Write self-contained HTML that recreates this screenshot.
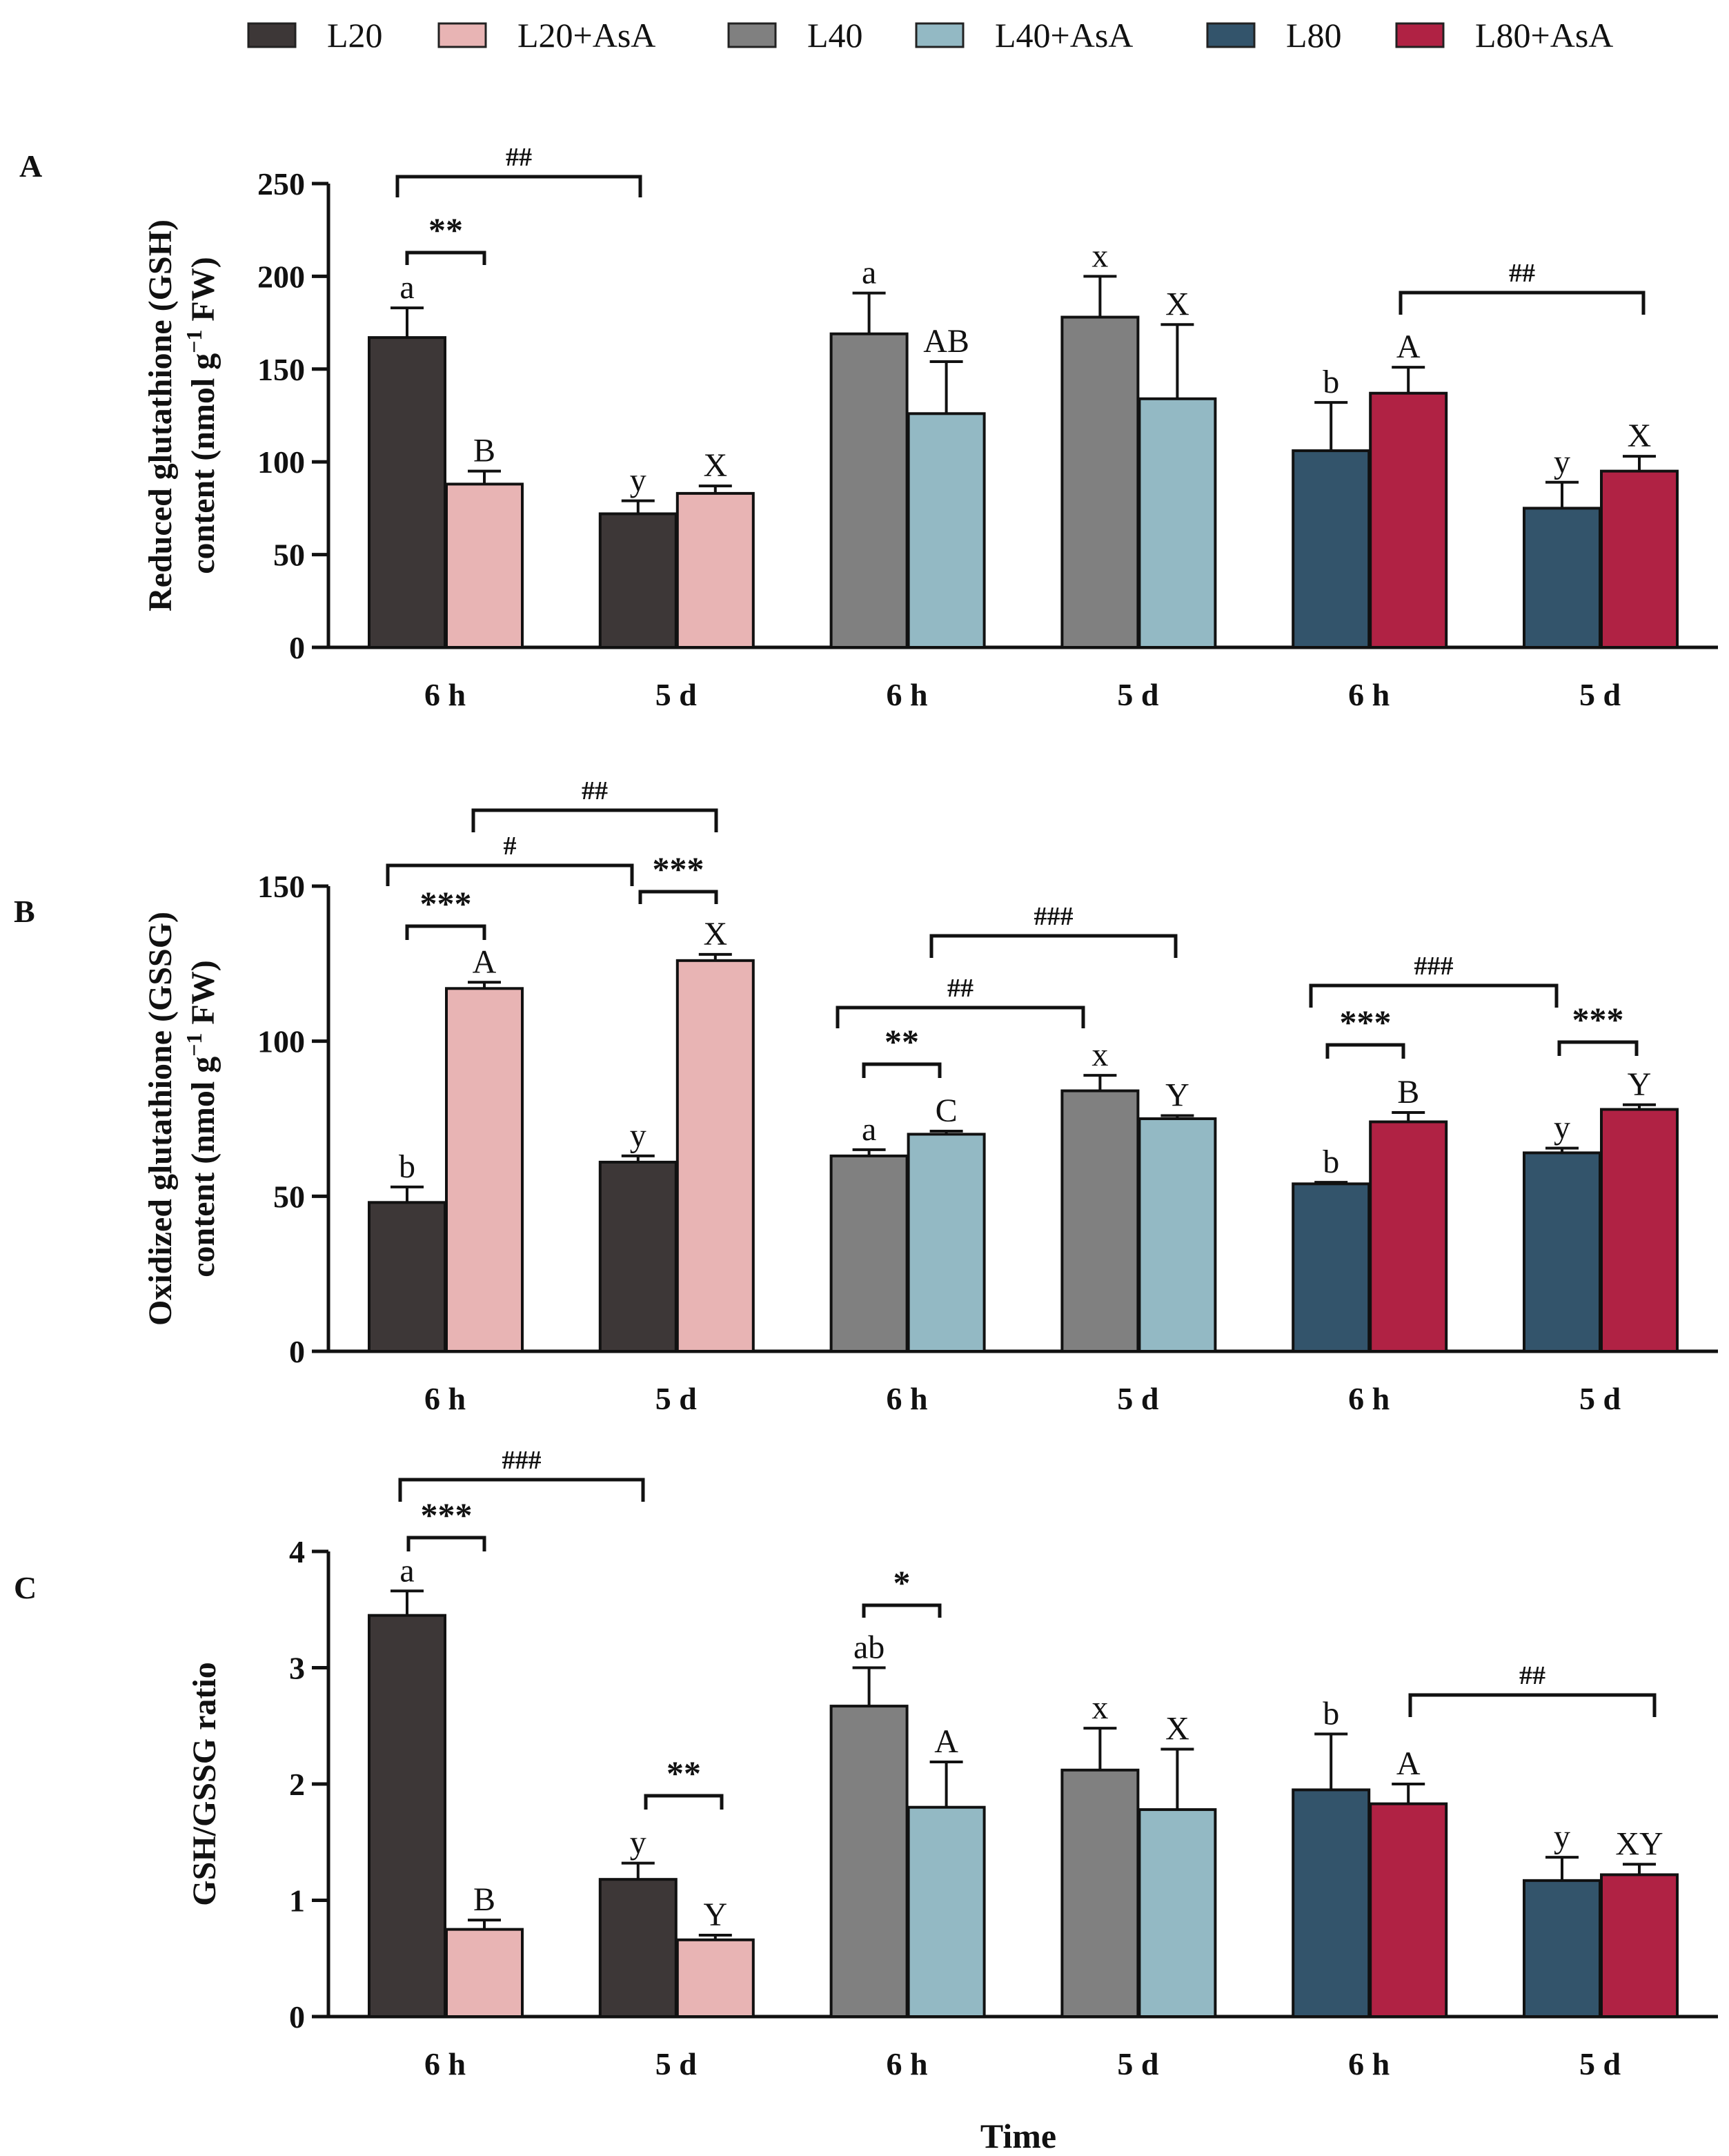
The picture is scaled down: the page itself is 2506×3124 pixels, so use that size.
<!DOCTYPE html>
<html><head><meta charset="utf-8"><style>
html,body{margin:0;padding:0;background:#fff;}
svg{display:block;}
text{font-family:"Liberation Serif",serif;fill:#111;}
</style></head><body>
<svg id="chart" width="2506" height="3124" viewBox="0 0 1253 1562" xmlns="http://www.w3.org/2000/svg"></svg>
<script>
const treatments = ["L20","L20+AsA","L40","L40+AsA","L80","L80+AsA"];
const colors = ["#3d3737","#e8b4b4","#808080","#93b9c4","#33546b","#b02244"];
const timeLabels = ["6 h","5 d","6 h","5 d","6 h","5 d"];
const gshValues = [167,88,72,83,169,126,178,134,106,137,75,95];
const gshErr = [16,7,7,4,22,28,22,40,26,14,14,8];
const gshLetters = ["a","B","y","X","a","AB","x","X","b","A","y","X"];
const gsshValues = [48,117,61,126,63,70,84,75,54,74,64,78];
const gsshErr = [5,2,2,2,2,1,5,1,0.5,3,1.5,1.5];
const gsshLetters = ["b","A","y","X","a","C","x","Y","b","B","y","Y"];
const ratioValues = [3.45,0.75,1.18,0.66,2.67,1.80,2.12,1.78,1.95,1.83,1.17,1.22];
const ratioErr = [0.21,0.08,0.14,0.04,0.33,0.39,0.36,0.52,0.48,0.17,0.20,0.09];
const ratioLetters = ["a","B","y","Y","ab","A","x","X","b","A","y","XY"];
const gshTicks = [0,50,100,150,200,250];
const gsshTicks = [0,50,100,150];
const ratioTicks = [0,1,2,3,4];

const svg = document.getElementById('chart');
const NS = "http://www.w3.org/2000/svg";
function el(tag, attrs, parent){const e=document.createElementNS(NS,tag);for(const k in attrs)e.setAttribute(k,attrs[k]);(parent||svg).appendChild(e);return e;}
function txt(s, attrs, parent){const e=el('text',attrs,parent);e.textContent=s;return e;}

const lx=[180,318,528,664,875,1012];
treatments.forEach((t,i)=>{
  const g=el('g',{});
  
  
  el('rect',{x:lx[i],y:17,width:34,height:17,fill:colors[i],stroke:'#222','stroke-width':1.5},g);
  txt(t,{x:lx[i]+57,y:34,'font-size':25},g);
});

function panel(cfg){
  const g=el('g',{});
  
  
  const y=v=>cfg.y0-(v-cfg.min)/(cfg.max-cfg.min)*(cfg.y0-cfg.ytop);
  const xc=i=>322.5+i*167.4;
  el('line',{x1:238,y1:cfg.ytop,x2:238,y2:cfg.y0+1,stroke:'#111','stroke-width':2.5},g);
  el('line',{x1:238,y1:cfg.y0,x2:1245,y2:cfg.y0,stroke:'#111','stroke-width':2.5},g);
  cfg.ticks.forEach(t=>{
    el('line',{x1:226,y1:y(t),x2:238,y2:y(t),stroke:'#111','stroke-width':2.5},g);
    txt(String(t),{x:221,y:y(t)+8,'font-size':23,'font-weight':'bold','text-anchor':'end'},g);
  });
  cfg.values.forEach((v,j)=>{
    const grp=Math.floor(j/2), k=j%2;
    const x0=xc(grp)-55+k*56;
    const color=colors[Math.floor(grp/2)*2+k];
    const cx=x0+27.5;
    const top=y(v+cfg.err[j]);
    const e=el('line',{x1:cx,y1:y(v),x2:cx,y2:top,stroke:'#111','stroke-width':2},g);
    
    
    el('line',{x1:cx-12,y1:top,x2:cx+12,y2:top,stroke:'#111','stroke-width':2},g);
    const r=el('rect',{x:x0,y:y(v),width:55,height:cfg.y0-y(v),fill:color,stroke:'#111','stroke-width':2},g);
    
    
    txt(cfg.letters[j],{x:cx,y:top-7,'font-size':24,'text-anchor':'middle'},g);
  });
  timeLabels.forEach((l,i)=>txt(l,{x:xc(i),y:cfg.y0+42,'font-size':23,'font-weight':'bold','text-anchor':'middle'},g));
  const ty=el('text',{transform:`translate(${cfg.tx},${(cfg.y0+cfg.ytop)/2}) rotate(-90)`,'font-size':24,'font-weight':'bold','text-anchor':'middle'},g);
  
  
  cfg.title.forEach((line,i)=>{const ts=document.createElementNS(NS,'tspan');ts.setAttribute('x',0);ts.setAttribute('y',i*31);ts.innerHTML=line;ty.appendChild(ts);});
  txt(cfg.letter,{x:cfg.lx,y:cfg.ly,'font-size':23,'font-weight':'bold'},g);
  cfg.brackets.forEach(b=>{
    const bg=el('g',{},g);
    
    
    el('path',{d:`M${b[0]},${b[2]+b[3]} V${b[2]} H${b[1]} V${b[2]+b[3]}`,fill:'none',stroke:'#111','stroke-width':2.5},bg);
    txt(b[4],{x:(b[0]+b[1])/2,y:b[2]-8,'font-size':b[4].includes('*')?25:19,'font-weight':'bold','text-anchor':'middle'},bg);
  });
}

panel({name:'panel-a-gsh',y0:469,ytop:133,min:0,max:250,ticks:gshTicks,values:gshValues,err:gshErr,letters:gshLetters,
  tx:124,title:['Reduced glutathione (GSH)','content (nmol g<tspan dy="-9" font-size="16">−1</tspan><tspan dy="9"> FW)</tspan>'],letter:'A',lx:14,ly:128,
  brackets:[[288,464,128,15,'##'],[295,351,183,9,'**'],[1015,1191,212,16,'##']]});
panel({name:'panel-b-gssg',y0:979,ytop:642,min:0,max:150,ticks:gsshTicks,values:gsshValues,err:gsshErr,letters:gsshLetters,
  tx:124,title:['Oxidized glutathione (GSSG)','content (nmol g<tspan dy="-9" font-size="16">−1</tspan><tspan dy="9"> FW)</tspan>'],letter:'B',lx:10,ly:668,
  brackets:[[343,519,587,16,'##'],[281,458,627,15,'#'],[295,351,671,10,'***'],[464,519,646,9,'***'],[675,852,678,16,'###'],[607,785,730,15,'##'],[626,681,771,10,'**'],[950,1128,714,16,'###'],[962,1017,757,10,'***'],[1130,1186,755,10,'***']]});
panel({name:'panel-c-ratio',y0:1461,ytop:1124,min:0,max:4,ticks:ratioTicks,values:ratioValues,err:ratioErr,letters:ratioLetters,
  tx:156,title:['GSH/GSSG ratio'],letter:'C',lx:10,ly:1158,
  brackets:[[290,466,1072,16,'###'],[296,351,1114,10,'***'],[468,523,1301,10,'**'],[626,681,1163,9,'*'],[1022,1199,1228,16,'##']]});
const xt=txt('Time',{x:738,y:1556,'font-size':25,'font-weight':'bold','text-anchor':'middle'});


</script>
</body></html>
